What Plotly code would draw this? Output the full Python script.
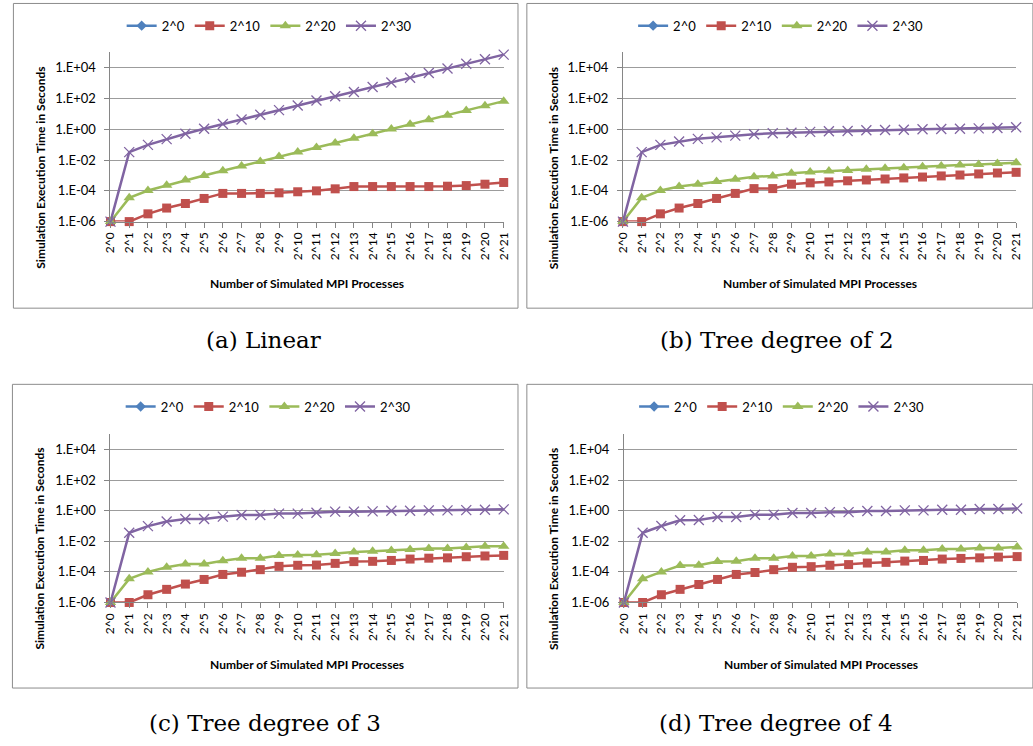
import plotly.graph_objects as go

W, H = 1033, 746

procs = ["2^%d" % i for i in range(22)]
series_names = ["2^0", "2^10", "2^20", "2^30"]

# ---- (a) Linear ----
a_2p0 = [1e-6] + [None] * 21
a_2p10 = [1e-6, 1e-6, 3.2e-6, 7.6e-6, 1.5e-5, 3.2e-5, 6.8e-5, 6.8e-5, 6.8e-5, 7.4e-5, 8.7e-5,
          1.0e-4, 1.35e-4, 1.9e-4, 1.9e-4, 1.9e-4, 1.9e-4, 1.9e-4, 2.0e-4, 2.2e-4, 2.7e-4, 3.5e-4]
a_2p20 = [1e-6, 3.5e-5, 1.05e-4, 2.3e-4, 5.1e-4, 1.0e-3, 2.0e-3, 4.1e-3, 8.1e-3, 1.7e-2, 3.3e-2,
          6.6e-2, 0.13, 0.26, 0.52, 1.05, 2.1, 4.2, 8.3, 17, 34, 68]
a_2p30 = [1e-6, 3.3e-2, 9.8e-2, 0.23, 0.52, 1.1, 2.2, 4.4, 8.9, 17.8, 35.5,
          74, 141, 269, 562, 1122, 2239, 4571, 9120, 18200, 36300, 72400]

# ---- (b) Tree degree of 2 ----
b_2p0 = [1e-6] + [None] * 21
b_2p10 = [1e-6, 1e-6, 3.2e-6, 7.6e-6, 1.5e-5, 3.2e-5, 6.8e-5, 1.4e-4, 1.4e-4, 2.7e-4, 3.3e-4,
          3.8e-4, 4.5e-4, 5.1e-4, 5.9e-4, 6.9e-4, 7.9e-4, 9.3e-4, 1.07e-3, 1.26e-3, 1.45e-3, 1.6e-3]
b_2p20 = [1e-6, 3.5e-5, 1.05e-4, 1.9e-4, 2.7e-4, 4.0e-4, 5.6e-4, 8.3e-4, 9.3e-4, 1.4e-3, 1.7e-3,
          1.95e-3, 2.1e-3, 2.5e-3, 2.9e-3, 3.2e-3, 3.7e-3, 4.1e-3, 4.8e-3, 5.2e-3, 6.0e-3, 6.8e-3]
b_2p30 = [1e-6, 3.3e-2, 9.8e-2, 0.16, 0.24, 0.30, 0.39, 0.48, 0.55, 0.60, 0.68,
          0.74, 0.78, 0.87, 0.91, 0.95, 1.0, 1.05, 1.1, 1.15, 1.23, 1.35]

# ---- (c) Tree degree of 3 ----
c_2p0 = [1e-6] + [None] * 21
c_2p10 = [1e-6, 1e-6, 3.2e-6, 7.2e-6, 1.6e-5, 3.2e-5, 6.8e-5, 9.5e-5, 1.4e-4, 2.3e-4, 2.7e-4,
          2.8e-4, 3.6e-4, 4.7e-4, 4.9e-4, 5.6e-4, 6.9e-4, 7.9e-4, 8.3e-4, 9.8e-4, 1.1e-3, 1.2e-3]
c_2p20 = [1e-6, 3.5e-5, 1.0e-4, 2.0e-4, 3.3e-4, 3.3e-4, 5.4e-4, 7.9e-4, 7.9e-4, 1.2e-3, 1.26e-3,
          1.3e-3, 1.6e-3, 2.0e-3, 2.2e-3, 2.5e-3, 2.9e-3, 3.4e-3, 3.4e-3, 3.9e-3, 4.8e-3, 4.8e-3]
c_2p30 = [1e-6, 3.6e-2, 9.8e-2, 0.20, 0.29, 0.29, 0.41, 0.52, 0.52, 0.65, 0.65,
          0.74, 0.87, 0.87, 0.91, 1.0, 1.0, 1.05, 1.05, 1.1, 1.15, 1.23]

# ---- (d) Tree degree of 4 ----
d_2p0 = [1e-6] + [None] * 21
d_2p10 = [1e-6, 1e-6, 3.2e-6, 7.2e-6, 1.5e-5, 3.2e-5, 6.8e-5, 9.1e-5, 1.4e-4, 2.0e-4, 2.2e-4,
          2.7e-4, 3.0e-4, 3.8e-4, 4.2e-4, 5.1e-4, 5.6e-4, 6.9e-4, 7.6e-4, 8.3e-4, 9.3e-4, 1.0e-3]
d_2p20 = [1e-6, 3.5e-5, 1.0e-4, 2.6e-4, 2.7e-4, 4.7e-4, 4.9e-4, 7.9e-4, 7.9e-4, 1.1e-3, 1.1e-3,
          1.5e-3, 1.5e-3, 2.0e-3, 2.0e-3, 2.6e-3, 2.6e-3, 3.2e-3, 3.2e-3, 3.7e-3, 3.7e-3, 4.3e-3]
d_2p30 = [1e-6, 3.6e-2, 0.10, 0.24, 0.25, 0.39, 0.39, 0.55, 0.55, 0.71, 0.71,
          0.81, 0.81, 0.95, 0.95, 1.05, 1.05, 1.15, 1.15, 1.29, 1.29, 1.41]

captions = ["(a) Linear", "(b) Tree degree of 2", "(c) Tree degree of 3", "(d) Tree degree of 4"]
panel_data = [
    [a_2p0, a_2p10, a_2p20, a_2p30],
    [b_2p0, b_2p10, b_2p20, b_2p30],
    [c_2p0, c_2p10, c_2p20, c_2p30],
    [d_2p0, d_2p10, d_2p20, d_2p30],
]
y_tickvals = [1e-6, 1e-4, 1e-2, 1, 1e2, 1e4]
y_ticktext = ["1.E-06", "1.E-04", "1.E-02", "1.E+00", "1.E+02", "1.E+04"]

colors = ["#4F81BD", "#C0504D", "#9BBB59", "#8064A2"]
markers = [
    dict(symbol="diamond", size=8),
    dict(symbol="square", size=9),
    dict(symbol="triangle-up", size=10),
    dict(symbol="x-thin", size=10),
]

# layout geometry (pixels)
panels = [
    dict(frame=(5.5, 3.5, 517.5, 311.5), plot=(104, 503, 53, 224), legend=(265, 26),
         ytitle=(33, 170), xtitle=(303, 287), caption=(259, 344)),
    dict(frame=(526.5, 3.5, 1040, 311.5), plot=(624, 1023, 53, 224), legend=(784, 26),
         ytitle=(553, 170), xtitle=(824, 287), caption=(780, 344)),
    dict(frame=(4.5, 388.5, 517.5, 695.5), plot=(104, 503, 439, 609), legend=(264, 411),
         ytitle=(32, 555), xtitle=(303, 672), caption=(261, 731)),
    dict(frame=(526.5, 388.5, 1040, 695.5), plot=(625, 1024, 439, 609), legend=(785, 411),
         ytitle=(553, 555), xtitle=(825, 672), caption=(779, 731)),
]


def fx(px):
    return px / W


def fy(py):
    return 1 - py / H


FONT = "Lato, 'Liberation Sans', sans-serif"
fig = go.Figure()
layout = dict(
    width=W, height=H, margin=dict(l=0, r=0, t=0, b=0),
    paper_bgcolor="white", plot_bgcolor="white",
    font=dict(family=FONT, size=13, color="#000000"),
    shapes=[], annotations=[],
)

for p, (geo, data) in enumerate(zip(panels, panel_data)):
    n = p + 1
    xa = "x" if n == 1 else "x%d" % n
    ya = "y" if n == 1 else "y%d" % n
    lg = "legend" if n == 1 else "legend%d" % n
    for s, vals in enumerate(data):
        m = dict(markers[s])
        m["color"] = colors[s]
        if m["symbol"] == "x-thin":
            m["line"] = dict(width=1.3, color=colors[s])
        fig.add_trace(go.Scatter(
            x=procs, y=vals, name=series_names[s], mode="lines+markers",
            line=dict(color=colors[s], width=2.5), marker=m,
            xaxis=xa, yaxis=ya, legend=lg, cliponaxis=False, connectgaps=False,
        ))
    x0, x1, yt, yb = geo["plot"]
    layout["xaxis" if n == 1 else "xaxis%d" % n] = dict(
        domain=[fx(x0), fx(x1)], anchor=ya, type="category", range=[0, 21],
        tickangle=-90, ticks="outside", ticklen=5, tickcolor="#868686",
        showline=True, linecolor="#868686", linewidth=1, showgrid=False,
        tickfont=dict(size=12, family=FONT), zeroline=False,
    )
    layout["yaxis" if n == 1 else "yaxis%d" % n] = dict(
        domain=[fy(yb), fy(yt)], anchor=xa, type="log", range=[-6, 5],
        tickvals=y_tickvals, ticktext=y_ticktext, ticks="outside", ticklen=5,
        tickcolor="#868686", showline=True, linecolor="#868686", linewidth=1,
        showgrid=True, gridcolor="#9c9c9c", gridwidth=1, zeroline=False,
        tickfont=dict(size=13, family=FONT), ticklabelstandoff=6,
    )
    lx, ly = geo["legend"]
    layout[lg] = dict(
        orientation="h", x=fx(lx), y=fy(ly), xanchor="center", yanchor="middle",
        xref="paper", yref="paper", font=dict(size=13, family=FONT),
        bgcolor="rgba(0,0,0,0)", itemclick=False, tracegroupgap=0,
    )
    f = geo["frame"]
    layout["shapes"].append(dict(
        type="rect", xref="paper", yref="paper",
        x0=fx(f[0]), x1=fx(f[2]), y0=fy(f[3]), y1=fy(f[1]),
        line=dict(color="#8c8c8c", width=1), fillcolor="rgba(0,0,0,0)", layer="below",
    ))
    tx, ty = geo["ytitle"]
    layout["annotations"].append(dict(
        text="<b>Simulation Execution Time in Seconds</b>", x=fx(tx), y=fy(ty),
        xref="paper", yref="paper", showarrow=False, textangle=-90,
        font=dict(size=12, family=FONT), xanchor="center", yanchor="middle",
    ))
    tx, ty = geo["xtitle"]
    layout["annotations"].append(dict(
        text="<b>Number of Simulated MPI Processes</b>", x=fx(tx), y=fy(ty),
        xref="paper", yref="paper", showarrow=False,
        font=dict(size=12, family=FONT), xanchor="center", yanchor="middle",
    ))
    tx, ty = geo["caption"]
    layout["annotations"].append(dict(
        text=captions[p], x=fx(tx), y=fy(ty), xref="paper", yref="paper",
        showarrow=False, font=dict(size=23, family="'DejaVu Serif', serif", color="#000"),
        xanchor="center", yanchor="middle",
    ))

fig.update_layout(**layout)
fig.write_html(
    "out.html",
    config={"displayModeBar": False},
    post_script="document.body.style.margin='0px';document.body.style.overflow='hidden';",
)
